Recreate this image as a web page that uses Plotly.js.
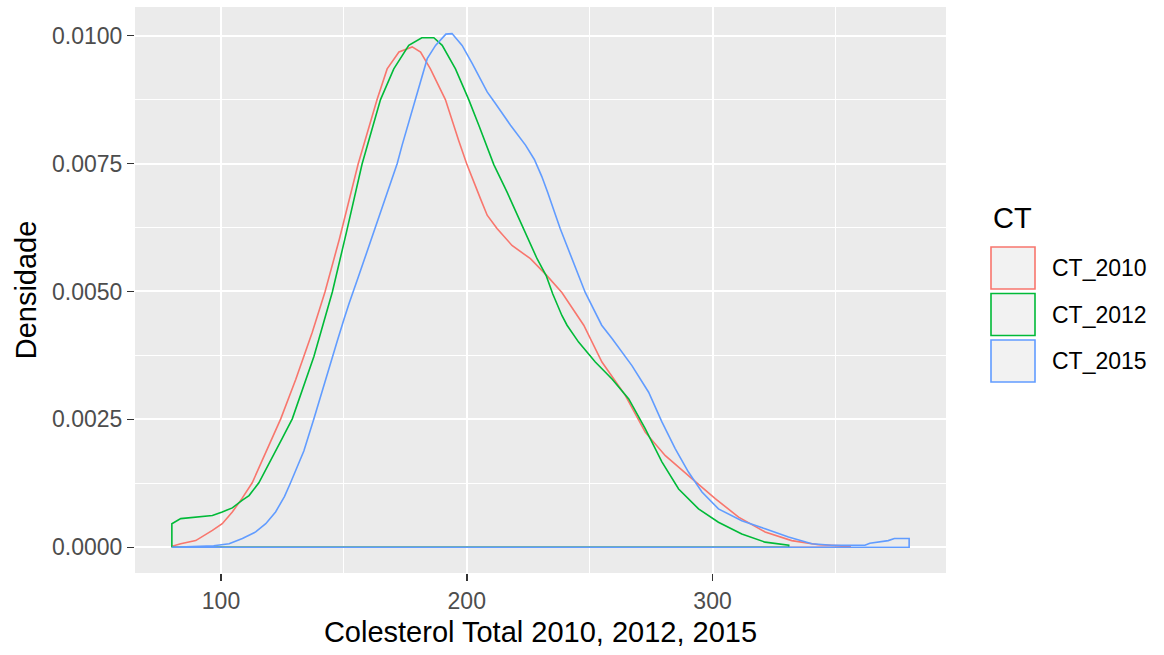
<!DOCTYPE html>
<html>
<head>
<meta charset="utf-8">
<script src="https://cdn.plot.ly/plotly-3.0.1.min.js"></script>
<style>
  html, body { margin: 0; padding: 0; background: #ffffff; }
  #chart { width: 1164px; height: 655px; }
</style>
</head>
<body>
<div id="chart"></div>
<script>
// Kernel density estimates of total cholesterol, one curve per survey year
const seriesNames = ["CT_2010", "CT_2012", "CT_2015"];
const seriesColors = ["#F8766D", "#00BA38", "#619CFF"];

const ct2010_x = [80, 83.6, 89.7, 96.5, 100.5, 104.6, 108.5, 112.7, 118.2, 124.3, 130.4, 133.7, 137.1, 142.3, 148.2,
  155.8, 163.5, 167.6, 172.4, 177.8, 181.2, 185.2, 191.3, 196.7, 200, 205.6, 208.3, 212.3, 218.4, 225.9, 232.6,
  238.7, 247.6, 255, 264.5, 272.6, 280.8, 291.6, 301.1, 310.6, 321.4, 332.2, 343.1, 352.6, 356];
const ct2010_y = [0.00002, 0.00007, 0.00013, 0.00033, 0.00046, 0.00069, 0.00095, 0.00126, 0.00186, 0.00251, 0.00328,
  0.00373, 0.00420, 0.00499, 0.00603, 0.00749, 0.00875, 0.00935, 0.00968, 0.00978, 0.00968, 0.00935, 0.00875,
  0.00795, 0.00749, 0.00681, 0.00649, 0.00623, 0.00590, 0.00564, 0.00531, 0.00498, 0.00434, 0.00362, 0.00297,
  0.00225, 0.00179, 0.00134, 0.00095, 0.00059, 0.00030, 0.00013, 0.00005, 0.00003, 0.00002];

const ct2012_x = [80, 83.6, 91, 96.5, 100.5, 104.6, 108.7, 111.4, 115.4, 120.9, 124.9, 129, 137.8, 141.2, 145.3, 151,
  157.4, 164.9, 170.3, 176.4, 181.7, 186.6, 190, 195.4, 200.8, 204.9, 208.3, 211, 216.4, 223.2, 228.6, 232.3,
  235, 238.7, 240.8, 245.5, 252.3, 259.1, 265.9, 272.6, 279.4, 286.2, 294.3, 302.4, 311.9, 321.4, 331];
const ct2012_y = [0.00046, 0.00056, 0.00059, 0.00062, 0.00069, 0.00077, 0.00092, 0.00101, 0.00126, 0.00178, 0.00213,
  0.00251, 0.00373, 0.00430, 0.00499, 0.00615, 0.00749, 0.00875, 0.00935, 0.00981, 0.00996, 0.00996, 0.00981,
  0.00935, 0.00875, 0.00825, 0.00781, 0.00748, 0.00694, 0.00623, 0.00564, 0.00531, 0.00495, 0.00453, 0.00434,
  0.00401, 0.00362, 0.00329, 0.00290, 0.00232, 0.00167, 0.00114, 0.00075, 0.00049, 0.00026, 0.00010, 0.00004];

const ct2015_x = [80, 97, 103.3, 108.7, 114.1, 118.2, 122.2, 125.8, 128.3, 133.7, 137.8, 141.9, 144.9, 147.3, 150,
  152, 156, 160.6, 164.2, 169.6, 171.7, 173.7, 179.1, 182.5, 183.9, 187.3, 191.5, 194, 198.1, 202.3, 206.2,
  208.3, 211.3, 217.8, 223.9, 227.5, 230.5, 232.9, 238, 242.8, 248.2, 254.9, 259.1, 267.2, 274, 279.4, 284.8,
  290.2, 295.7, 302.4, 311.9, 321.4, 330.9, 340.4, 348.5, 362, 364, 371.5, 374, 380];
const ct2015_y = [0.00000, 0.00003, 0.00007, 0.00017, 0.00030, 0.00046, 0.00069, 0.00099, 0.00126, 0.00188, 0.00251,
  0.00318, 0.00365, 0.00403, 0.00445, 0.00475, 0.00530, 0.00595, 0.00645, 0.00720, 0.00750, 0.00786, 0.00875,
  0.00936, 0.00955, 0.00981, 0.01003, 0.01004, 0.00981, 0.00945, 0.00909, 0.00890, 0.00870, 0.00825, 0.00786,
  0.00758, 0.00725, 0.00694, 0.00623, 0.00564, 0.00498, 0.00434, 0.00408, 0.00355, 0.00303, 0.00245, 0.00193,
  0.00147, 0.00108, 0.00075, 0.00052, 0.00036, 0.00020, 0.00007, 0.00004, 0.00004, 0.00008, 0.00013, 0.00017,
  0.00017];

const xTickVals = [100, 200, 300];
const yTickVals = [0, 0.0025, 0.005, 0.0075, 0.01];

const allX = [ct2010_x, ct2012_x, ct2015_x];
const allY = [ct2010_y, ct2012_y, ct2015_y];

// Each density is drawn as a closed outline: the curve, then back along the baseline.
function outline(xs, ys) {
  const x0 = xs[0], x1 = xs[xs.length - 1];
  return {
    x: [x0].concat(xs, [x1, x0]),
    y: [0].concat(ys, [0, 0])
  };
}

const traces = allX.map((xs, i) => {
  const o = outline(xs, allY[i]);
  return {
    type: "scatter",
    mode: "lines",
    name: seriesNames[i],
    x: o.x,
    y: o.y,
    line: { color: seriesColors[i], width: 1.6 },
    hoverinfo: "skip",
    showlegend: false
  };
});

// Plot panel in pixels
const W = 1164, H = 655;
const panel = { left: 135, right: 946, top: 7, bottom: 573 };
const pw = panel.right - panel.left, ph = panel.bottom - panel.top;
const px = v => (v - panel.left) / pw;
const py = v => (panel.bottom - v) / ph;

const FONT = "Liberation Sans, Arial, sans-serif";

// Legend drawn by hand: grey keys with coloured borders
const keyLeft = 991, keyRight = 1035, keyTop = 247, keyH = 42, keyStep = 46.5;
const shapes = [];
const annotations = [{
  xref: "paper", yref: "paper", x: px(991), y: py(218),
  xanchor: "left", yanchor: "middle", showarrow: false,
  text: "CT", font: { family: FONT, size: 29, color: "#000000" }
}];
seriesNames.forEach((nm, i) => {
  const t = keyTop + i * keyStep;
  shapes.push({
    type: "rect", xref: "paper", yref: "paper",
    x0: px(keyLeft), x1: px(keyRight), y0: py(t + keyH), y1: py(t),
    fillcolor: "#F2F2F2", line: { color: seriesColors[i], width: 1.6 }, layer: "above"
  });
  annotations.push({
    xref: "paper", yref: "paper", x: px(1050), y: py(t + keyH / 2),
    xanchor: "left", yanchor: "middle", showarrow: false,
    text: nm, font: { family: FONT, size: 23, color: "#000000" }
  });
});

const layout = {
  width: W, height: H,
  margin: { l: panel.left, r: W - panel.right, t: panel.top, b: H - panel.bottom, pad: 0 },
  paper_bgcolor: "#FFFFFF",
  plot_bgcolor: "#EBEBEB",
  font: { family: FONT, size: 23, color: "#4D4D4D" },
  showlegend: false,
  xaxis: {
    range: [65, 395],
    tickvals: xTickVals,
    ticktext: xTickVals.map(String),
    ticks: "outside", ticklen: 7, tickwidth: 1.5, tickcolor: "#333333",
    showgrid: true, gridcolor: "#FFFFFF", gridwidth: 2,
    minor: { tickvals: [50, 150, 250, 350], showgrid: true, gridcolor: "#FFFFFF", gridwidth: 1.1 },
    zeroline: false, showline: false,
    tickfont: { family: FONT, size: 23, color: "#4D4D4D" },
    title: { text: "Colesterol Total 2010, 2012, 2015", font: { family: FONT, size: 29, color: "#000000" }, standoff: 9 },
    automargin: false
  },
  yaxis: {
    range: [-0.000503, 0.01056],
    tickvals: yTickVals,
    ticktext: yTickVals.map(v => v.toFixed(4)),
    ticks: "outside", ticklen: 7, tickwidth: 1.5, tickcolor: "#333333",
    showgrid: true, gridcolor: "#FFFFFF", gridwidth: 2,
    minor: { tickvals: [0.00125, 0.00375, 0.00625, 0.00875], showgrid: true, gridcolor: "#FFFFFF", gridwidth: 1.1 },
    zeroline: false, showline: false,
    tickfont: { family: FONT, size: 23, color: "#4D4D4D" },
    title: { text: "Densidade", font: { family: FONT, size: 29, color: "#000000" }, standoff: 6 },
    automargin: false
  },
  shapes: shapes,
  annotations: annotations
};

Plotly.newPlot("chart", traces, layout, { displayModeBar: false, staticPlot: true });
</script>
</body>
</html>
